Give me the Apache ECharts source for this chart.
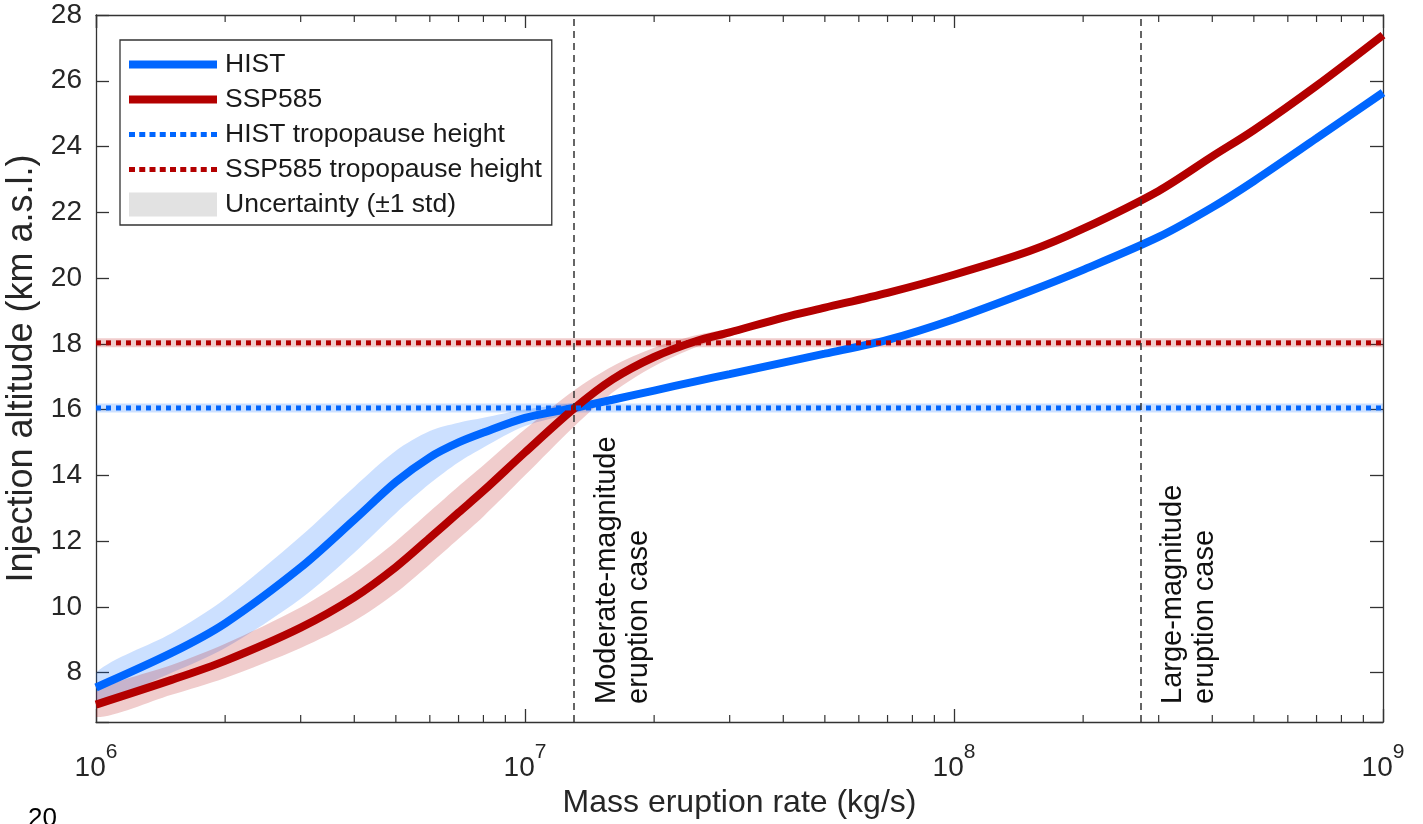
<!DOCTYPE html>
<html>
<head>
<meta charset="utf-8">
<script src="https://cdn.jsdelivr.net/npm/echarts@6/dist/echarts.min.js"></script>
<style>
html,body{margin:0;padding:0;background:#fff;}
#chart{width:1423px;height:824px;}
</style>
</head>
<body>
<div id="chart"></div>
<script>
// ---- data ----
const mer = [1e6, 1.5e6, 2e6, 3e6, 4e6, 5e6, 6e6, 7e6, 8e6, 1e7, 1.3e7, 1.6e7, 2e7, 2.5e7, 3e7, 4e7, 5e7, 7e7, 1e8, 1.5e8, 2e8, 3e8, 4e8, 5e8, 7e8, 1e9];
const histAlt = [7.55, 8.6, 9.5, 11.2, 12.65, 13.8, 14.55, 15.0, 15.3, 15.75, 16.05, 16.3, 16.58, 16.86, 17.08, 17.43, 17.7, 18.12, 18.75, 19.6, 20.25, 21.25, 22.15, 22.95, 24.25, 25.64];
const histStd = [0.45, 0.6, 0.75, 0.95, 1.0, 0.95, 0.8, 0.6, 0.45, 0.25, 0.15, 0.1, 0.08, 0.06, 0.05, 0.05, 0.05, 0.05, 0.05, 0.05, 0.05, 0.05, 0.05, 0.05, 0.05, 0.05];
const sspAlt = [7.03, 7.78, 8.36, 9.37, 10.29, 11.21, 12.1, 12.87, 13.53, 14.7, 16.03, 16.92, 17.6, 18.08, 18.35, 18.8, 19.1, 19.55, 20.1, 20.82, 21.5, 22.65, 23.7, 24.5, 25.85, 27.39];
const sspStd = [0.38, 0.45, 0.52, 0.62, 0.72, 0.78, 0.8, 0.8, 0.78, 0.7, 0.55, 0.4, 0.28, 0.18, 0.12, 0.08, 0.06, 0.05, 0.05, 0.05, 0.05, 0.05, 0.05, 0.05, 0.05, 0.05];
const tropX = [1e6, 1e9];
const histTrop = [16.05, 16.05];
const sspTrop = [18.03, 18.03];
const caseRates = [1.3e7, 2.72e8];
const caseLabels = ['Moderate-magnitude\neruption case', 'Large-magnitude\neruption case'];
const minorTicks = [2e6, 3e6, 4e6, 5e6, 6e6, 7e6, 8e6, 9e6, 2e7, 3e7, 4e7, 5e7, 6e7, 7e7, 8e7, 9e7, 2e8, 3e8, 4e8, 5e8, 6e8, 7e8, 8e8, 9e8];
const seriesNames = ['HIST', 'SSP585', 'HIST tropopause height', 'SSP585 tropopause height', 'Uncertainty (\u00b11 std)'];
const xName = 'Mass eruption rate (kg/s)';
const yName = 'Injection altitude (km a.s.l.)';
const xMin = 1e6, xMax = 1e9, yMin = 6.5, yMax = 28;

// ---- styles ----
const FONT = '"Liberation Sans", Arial, Helvetica, sans-serif';
const BLUE = '#0066ff', RED = '#b30000';
const BLUE_BAND = 'rgba(0,102,255,0.2)', RED_BAND = 'rgba(179,0,0,0.2)';
const AX = '#333333', TXT = '#262626';

const pairs = (xs, ys) => xs.map((x, i) => [x, ys[i]]);
const iconSolid = 'path://M0,0L0,0M88,24L88,24M0,8h88v8h-88z';
let dots = 'path://M0,0L0,0M88,24L88,24';
for (let k = 0; k < 9; k++) { const x0 = k * 10.25; dots += 'M' + x0 + ',9.5h6v5h-6z'; }
const iconRect = 'path://M0,0h88v24h-88z';

// band polygon drawn through the axes' scales
function bandSeries(name, xs, mean, std, color) {
  return {
    name: name, type: 'custom', silent: true, clip: true, z: 1,
    data: xs.map((x, i) => [x, mean[i] - std[i], mean[i] + std[i]]),
    encode: {x: 0, y: [1, 2]},
    renderItem: (params, api) => {
      if (params.dataIndex !== 0) return;
      const lo = [], hi = [];
      for (let i = 0; i < xs.length; i++) {
        lo.push(api.coord([xs[i], mean[i] - std[i]]));
        hi.push(api.coord([xs[i], mean[i] + std[i]]));
      }
      return {type: 'polygon', shape: {points: lo.concat(hi.reverse()), smooth: 0.3},
        style: {fill: color}};
    }
  };
}

const chart = echarts.init(document.getElementById('chart'), null, {renderer: 'canvas'});

const axisCommon = {
  axisLine: {show: true, lineStyle: {color: AX, width: 1.3}},
  splitLine: {show: false}
};

const option = {
  animation: false,
  backgroundColor: '#fff',
  grid: {left: 96, right: 40, top: 15, bottom: 102, containLabel: false, outerBoundsMode: 'none'},
  xAxis: [{
    type: 'log', logBase: 10, min: xMin, max: xMax, position: 'bottom',
    ...axisCommon,
    axisTick: {show: true, inside: true, length: 13, lineStyle: {color: AX, width: 1.3}},
    axisLabel: {
      margin: 20,
      formatter: v => '{b|10}{s|' + Math.round(Math.log10(v)) + '}',
      rich: {
        b: {fontSize: 28, lineHeight: 40, fontFamily: FONT, color: TXT, verticalAlign: 'bottom'},
        s: {fontSize: 21, lineHeight: 16, fontFamily: FONT, color: TXT, verticalAlign: 'top'}
      }
    },
    name: xName, nameLocation: 'middle', nameGap: 63,
    nameTextStyle: {fontSize: 32, fontFamily: FONT, color: TXT}
  }, {
    type: 'log', logBase: 10, min: xMin, max: xMax, position: 'top',
    ...axisCommon,
    axisTick: {show: true, inside: true, length: 13, lineStyle: {color: AX, width: 1.3}},
    axisLabel: {show: false}
  }],
  yAxis: [{
    type: 'value', min: yMin, max: yMax, splitNumber: 10, position: 'left',
    ...axisCommon,
    axisTick: {show: true, inside: true, length: 13, lineStyle: {color: AX, width: 1.3}},
    axisLabel: {margin: 14, fontSize: 28, fontFamily: FONT, color: TXT,
      formatter: v => (Math.abs(v - Math.round(v)) > 1e-6 ? '' : String(v))},
    name: yName, nameLocation: 'middle', nameGap: 53,
    nameTextStyle: {fontSize: 36, fontFamily: FONT, color: TXT}
  }, {
    type: 'value', min: yMin, max: yMax, splitNumber: 10, position: 'right',
    ...axisCommon,
    axisTick: {show: true, inside: true, length: 13, lineStyle: {color: AX, width: 1.3}},
    axisLabel: {show: false}
  }],
  legend: {
    orient: 'vertical', left: 120, top: 40,
    padding: [11, 10, 7, 9],
    itemWidth: 88, itemHeight: 24, itemGap: 8,
    borderColor: '#333', borderWidth: 1.3, backgroundColor: '#fff',
    selectedMode: false,
    itemStyle: {borderWidth: 0},
    textStyle: {fontSize: 26.5, fontFamily: FONT, color: '#1a1a1a', lineHeight: 24, padding: [0, 0, 0, 3]},
    data: [
      {name: seriesNames[0], icon: iconSolid},
      {name: seriesNames[1], icon: iconSolid},
      {name: seriesNames[2], icon: dots},
      {name: seriesNames[3], icon: dots},
      {name: seriesNames[4], icon: iconRect, itemStyle: {color: '#e2e2e2'}}
    ]
  },
  graphic: [{
    type: 'text', left: 28, top: 806,
    style: {text: '20', fontSize: 26, fontFamily: FONT, fill: '#000'}
  }],
  series: [
    // uncertainty bands
    bandSeries('histBand', mer, histAlt, histStd, BLUE_BAND),
    bandSeries('sspBand', mer, sspAlt, sspStd, RED_BAND),
    // tropopause uncertainty (thin bands)
    {name: 'histTropBand', type: 'line', symbol: 'none', silent: true,
      data: pairs(tropX, histTrop), lineStyle: {color: BLUE_BAND, width: 9}},
    {name: 'sspTropBand', type: 'line', symbol: 'none', silent: true,
      data: pairs(tropX, sspTrop), lineStyle: {color: RED_BAND, width: 9}},
    // main curves
    {name: seriesNames[0], type: 'line', symbol: 'none', smooth: 0.3, color: BLUE,
      data: pairs(mer, histAlt), lineStyle: {color: BLUE, width: 8, cap: 'butt'}},
    {name: seriesNames[1], type: 'line', symbol: 'none', smooth: 0.3, color: RED,
      data: pairs(mer, sspAlt), lineStyle: {color: RED, width: 8, cap: 'butt'}},
    // tropopause heights
    {name: seriesNames[2], type: 'line', symbol: 'none', color: BLUE,
      data: pairs(tropX, histTrop), lineStyle: {color: BLUE, width: 5, type: 'dotted', cap: 'butt'}},
    {name: seriesNames[3], type: 'line', symbol: 'none', color: RED,
      data: pairs(tropX, sspTrop), lineStyle: {color: RED, width: 5, type: 'dotted', cap: 'butt'}},
    // legend-only entry for the uncertainty shading
    {name: seriesNames[4], type: 'line', symbol: 'none', color: '#e2e2e2', data: []},
    // case lines
    {name: 'cases', type: 'line', symbol: 'none', data: [], z: 5,
      markLine: {symbol: ['none', 'none'], silent: true, animation: false,
        label: {show: false},
        lineStyle: {color: '#333', width: 1.5, type: [7, 5]},
        data: caseRates.map(v => ({xAxis: v}))}},
    // case annotations
    {name: 'annotations', type: 'custom', silent: true, clip: false, z: 6,
      data: caseRates.map(v => [v, yMin]),
      renderItem: (params, api) => {
        const p = api.coord([api.value(0), api.value(1)]);
        return {type: 'text', x: p[0] + 17, y: p[1] - 18, rotation: Math.PI / 2,
          style: {text: caseLabels[params.dataIndex], fontSize: 29, fontFamily: FONT,
            fill: '#111', align: 'left', verticalAlign: 'top', lineHeight: 32}};
      }},
    // minor log ticks (bottom and top)
    {name: 'minorTicks', type: 'custom', silent: true, clip: false, z: 6,
      data: minorTicks.map(v => [v, yMin]),
      renderItem: (params, api) => {
        const b = api.coord([api.value(0), yMin]);
        const t = api.coord([api.value(0), yMax]);
        const st = {stroke: AX, lineWidth: 1.2};
        return {type: 'group', children: [
          {type: 'line', shape: {x1: b[0], y1: b[1], x2: b[0], y2: b[1] - 7}, style: st},
          {type: 'line', shape: {x1: t[0], y1: t[1], x2: t[0], y2: t[1] + 7}, style: st}
        ]};
      }}
  ]
};
chart.setOption(option);
</script>
</body>
</html>
